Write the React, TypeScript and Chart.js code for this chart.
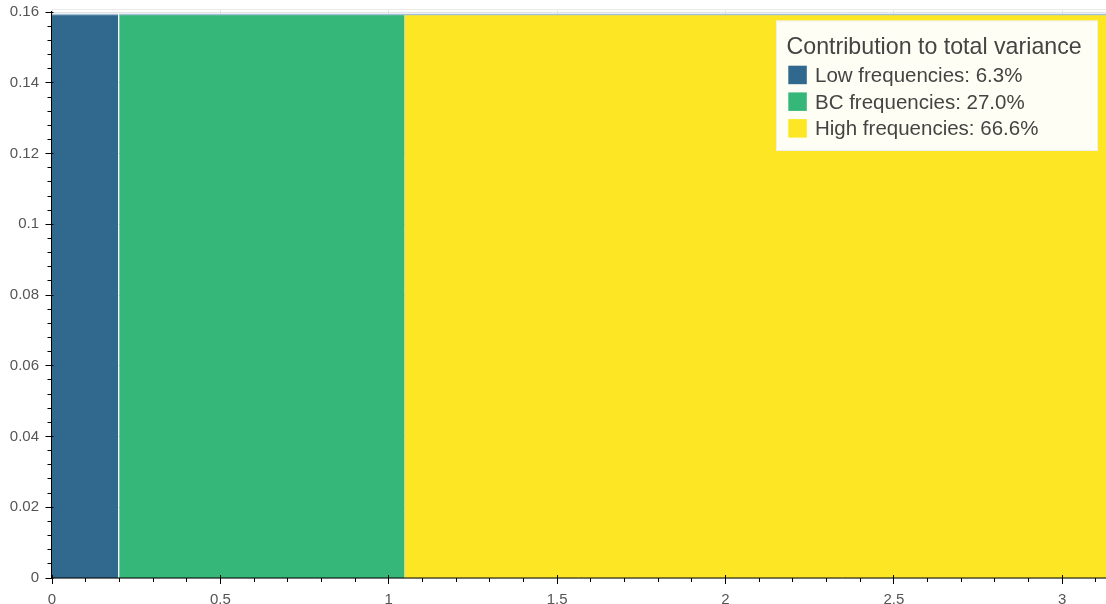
import React, { useEffect, useRef } from 'react';
import { Chart, registerables } from 'chart.js';

Chart.register(...registerables);

// ---- data ----
const bandNames = ['Low frequencies', 'BC frequencies', 'High frequencies'];
const bandShares = [6.3, 27.0, 66.6];
const bandStarts = [0, 0.1995, 1.0472];
const bandEnds = [0.1965, 1.0472, 3.1416];
const bandHeights = [0.1593, 0.1593, 0.1593];
const bandColors = ['#30688e', '#35b779', '#fde725'];
const legendTitle = 'Contribution to total variance';

const xTickValues = [0, 0.5, 1, 1.5, 2, 2.5, 3];
const xTickLabels = ['0', '0.5', '1', '1.5', '2', '2.5', '3'];
const yTickValues = [0, 0.02, 0.04, 0.06, 0.08, 0.1, 0.12, 0.14, 0.16];
const yTickLabels = ['0', '0.02', '0.04', '0.06', '0.08', '0.1', '0.12', '0.14', '0.16'];
const xMinorStep = 0.1;
const yMinorStep = 0.004;
const xMin = 0;
const xMax = 3.13;
const yMin = 0;
const yMax = 0.1606;

const FONT = '"Liberation Sans", Arial, Helvetica, sans-serif';

function findIndex(v: number, arr: number[]) {
  return arr.findIndex((m) => Math.abs(m - v) < 1e-9);
}

function buildTicks(min: number, max: number, step: number) {
  const out: { value: number }[] = [];
  const n = Math.floor((max - min) / step + 1e-9);
  for (let i = 0; i <= n; i++) {
    out.push({ value: Math.round((min + i * step) * 1e6) / 1e6 });
  }
  return out;
}

const axesPlugin = {
  id: 'bokehAxes',
  afterDatasetsDraw(chart: any) {
    const { ctx, chartArea } = chart;
    const { left, right, top, bottom } = chartArea;
    const xs = chart.scales.x;
    const ys = chart.scales.y;
    ctx.save();
    ctx.strokeStyle = 'rgba(229,229,229,0.8)';
    ctx.lineWidth = 1;
    ctx.beginPath();
    ctx.moveTo(left, top - 0.5);
    ctx.lineTo(right, top - 0.5);
    ctx.stroke();

    ctx.strokeStyle = '#000';
    ctx.lineWidth = 1;
    const ax = left - 0.5;
    ctx.beginPath();
    ctx.moveTo(ax, top + 1);
    ctx.lineTo(ax, bottom);
    ctx.stroke();
    ys.ticks.forEach((t: any) => {
      const py = Math.floor(ys.getPixelForValue(t.value)) + 0.5;
      const major = findIndex(t.value, yTickValues) >= 0;
      ctx.beginPath();
      if (major) {
        ctx.moveTo(ax - 6, py);
        ctx.lineTo(ax + 2, py);
      } else {
        ctx.moveTo(ax - 4, py);
        ctx.lineTo(ax, py);
      }
      ctx.stroke();
    });
    ctx.beginPath();
    ctx.moveTo(left - 1, bottom);
    ctx.lineTo(right, bottom);
    ctx.stroke();
    xs.ticks.forEach((t: any) => {
      const px = Math.floor(xs.getPixelForValue(t.value)) + 0.5;
      const major = findIndex(t.value, xTickValues) >= 0;
      ctx.beginPath();
      if (major) {
        ctx.moveTo(px, bottom - 3);
        ctx.lineTo(px, bottom + 6);
      } else {
        ctx.moveTo(px, bottom);
        ctx.lineTo(px, bottom + 4);
      }
      ctx.stroke();
    });
    ctx.restore();
  },
};

const legendPlugin = {
  id: 'bokehLegend',
  afterDraw(chart: any) {
    const { ctx, chartArea } = chart;
    const lx = chartArea.right - 330;
    const ly = chartArea.top + 10.5;
    const lw = 322;
    const lh = 130.5;
    ctx.save();
    ctx.fillStyle = 'rgba(255,255,255,0.95)';
    ctx.fillRect(lx, ly, lw, lh);
    ctx.strokeStyle = 'rgba(229,229,229,0.6)';
    ctx.lineWidth = 1;
    ctx.strokeRect(lx + 0.5, ly + 0.5, lw - 1, lh - 1);

    ctx.fillStyle = '#444';
    ctx.textBaseline = 'alphabetic';
    ctx.textAlign = 'left';
    ctx.font = `23.2px ${FONT}`;
    ctx.fillText(legendTitle, lx + 10.5, ly + 33.5);

    chart.data.datasets.forEach((ds: any, i: number) => {
      const sy = ly + 45.2 + i * 26.7;
      ctx.fillStyle = ds.backgroundColor;
      ctx.fillRect(lx + 12.3, sy, 18.5, 18.5);
      ctx.fillStyle = '#444';
      ctx.font = `20.5px ${FONT}`;
      ctx.fillText(ds.label, lx + 39, sy + 16.3);
    });
    ctx.restore();
  },
};

export default function App() {
  const canvasRef = useRef<HTMLCanvasElement | null>(null);

  useEffect(() => {
    const canvas = canvasRef.current;
    if (!canvas) return;

    const datasets = bandNames.map((name, i) => ({
      label: `${name}: ${bandShares[i].toFixed(1)}%`,
      data: [
        { x: bandStarts[i], y: bandHeights[i] },
        { x: bandEnds[i], y: bandHeights[i] },
      ],
      backgroundColor: bandColors[i],
      borderColor: '#a3bfd3',
      borderWidth: 1.5,
      fill: 'origin',
      pointRadius: 0,
      tension: 0,
    }));

    const chart = new Chart(canvas, {
      type: 'line',
      data: { datasets } as any,
      options: {
        animation: false,
        responsive: false,
        maintainAspectRatio: false,
        layout: { padding: { top: 10, right: 0, left: 0, bottom: 0 } },
        plugins: {
          legend: { display: false },
          tooltip: { enabled: false },
          title: { display: false },
        },
        scales: {
          x: {
            type: 'linear',
            min: xMin,
            max: xMax,
            afterBuildTicks: (s: any) => {
              s.ticks = buildTicks(xMin, xMax, xMinorStep);
            },
            afterFit: (s: any) => {
              s.height = 26;
              s.paddingLeft = 0;
              s.paddingRight = 0;
            },
            border: { display: false },
            grid: {
              drawTicks: false,
              color: (c: any) =>
                c.tick && findIndex(c.tick.value, xTickValues) >= 0 ? '#e5e5e5' : 'rgba(0,0,0,0)',
            },
            ticks: {
              autoSkip: false,
              maxRotation: 0,
              minRotation: 0,
              padding: 13,
              color: '#555',
              font: { family: FONT, size: 15 },
              callback: (v: any) => {
                const idx = findIndex(Number(v), xTickValues);
                return idx >= 0 ? xTickLabels[idx] : '';
              },
            },
          },
          y: {
            type: 'linear',
            min: yMin,
            max: yMax,
            afterBuildTicks: (s: any) => {
              s.ticks = buildTicks(yMin, yMax, yMinorStep);
            },
            afterFit: (s: any) => {
              s.width = 52;
              s.paddingTop = 0;
              s.paddingBottom = 0;
            },
            border: { display: false },
            grid: {
              drawTicks: false,
              color: (c: any) =>
                c.tick && findIndex(c.tick.value, yTickValues) >= 0 ? '#e5e5e5' : 'rgba(0,0,0,0)',
            },
            ticks: {
              autoSkip: false,
              padding: 13,
              color: '#555',
              font: { family: FONT, size: 15 },
              callback: (v: any) => {
                const idx = findIndex(Number(v), yTickValues);
                return idx >= 0 ? yTickLabels[idx] : '';
              },
            },
          },
        },
      } as any,
      plugins: [axesPlugin, legendPlugin],
    });

    return () => chart.destroy();
  }, []);

  return (
    <div
      style={{
        position: 'fixed',
        left: 0,
        top: 0,
        width: 1106,
        height: 604,
        overflow: 'hidden',
        background: '#ffffff',
      }}
    >
      <canvas ref={canvasRef} width={1106} height={604} style={{ display: 'block' }} />
    </div>
  );
}
